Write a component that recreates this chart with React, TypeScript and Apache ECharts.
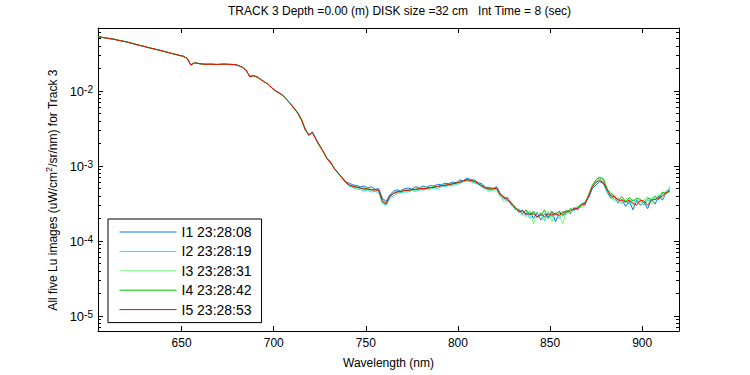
import React, { useEffect, useRef } from 'react';
import * as echarts from 'echarts';

// Wavelength grid: 605 nm, step 2 nm (156 samples)
const WL_START = 605;
const WL_STEP = 2;
// Values below are in units of 1e-4 uW/cm^2/sr/nm
const UNIT = 1e-4;

const I1 = [
  530, 519, 507, 500, 493, 477, 469, 459, 445, 433, 420, 406, 397, 386, 372, 365, 355, 344, 335, 326,
  314, 307, 297, 291, 270, 224, 239, 232, 229, 228, 227, 228, 225, 227, 229, 226, 227, 224, 219, 206,
  188, 157, 161, 153, 143, 131, 124, 109, 101, 93, 88, 76, 69, 58, 52, 41, 32, 25.5, 28.5, 22.8,
  18.8, 15.2, 12.7, 11.2, 9.1, 8.1, 7.1, 6.2,
  5.9, 5.6, 5.5, 5.3, 5.4, 5.1, 5.3, 4.9, 5.0, 3.7, 3.4, 4.1, 4.6, 4.8, 4.7, 5.0, 5.1, 4.9, 5.3, 5.1,
  5.4, 5.2, 5.5, 5.4, 5.7, 5.6, 5.9, 5.8, 6.1, 6.0, 6.5, 6.4, 6.9, 6.6, 6.5, 6.0, 5.8, 5.2, 5.2, 5.0, 5.3,
  4.3, 3.7, 3.8, 3.0, 2.9, 2.4, 2.6, 2.2, 2.5, 2.0, 2.4, 1.9, 2.3, 2.1, 2.5, 1.8, 2.4, 2.2, 2.6, 2.3,
  2.8, 2.6, 3.1, 3.3,
  3.8, 5.0, 5.6, 6.2, 5.8, 4.5, 3.7, 3.9, 3.2, 3.6, 2.9, 3.4, 2.6, 3.5, 3.0, 3.3, 2.7, 3.6, 3.1, 4.0,
  3.5, 4.4, 5.0,
];
const I2 = [
  527, 517, 509, 498, 490, 479, 467, 456, 447, 431, 418, 408, 395, 384, 375, 363, 353, 346, 333, 324,
  316, 305, 299, 289, 273, 221, 237, 234, 228, 226, 229, 226, 227, 226, 227, 228, 225, 226, 217, 208,
  191, 154, 159, 155, 141, 133, 122, 111, 99, 95, 86, 78, 67, 60, 50, 43, 30, 26.5, 27.5, 22.2,
  18.2, 15.6, 12.3, 10.8, 9.3, 7.9, 6.9, 6.0,
  5.4, 5.2, 4.9, 4.9, 4.6, 4.8, 4.5, 4.6, 4.4, 3.2, 3.0, 3.7, 4.0, 4.3, 4.4, 4.5, 4.5, 4.7, 4.6, 4.8,
  4.8, 4.9, 4.9, 5.1, 5.0, 5.3, 5.3, 5.5, 5.4, 5.7, 5.8, 6.2, 6.3, 6.2, 5.9, 5.7, 5.2, 4.9, 4.6, 4.8, 4.8,
  3.9, 3.6, 3.4, 3.2, 2.6, 2.7, 2.2, 2.5, 2.0, 2.4, 2.0, 2.3, 1.85, 2.4, 2.1, 2.3, 2.0, 2.5, 2.3, 2.7,
  2.5, 2.9, 2.8, 3.0,
  4.1, 5.2, 6.0, 6.8, 5.9, 4.4, 4.2, 3.5, 3.7, 3.2, 3.5, 3.1, 3.6, 3.2, 3.4, 3.0, 3.5, 3.3, 3.8, 3.5,
  4.3, 4.2, 5.3,
];
const I3 = [
  529, 518, 508, 500, 491, 478, 469, 457, 446, 432, 420, 407, 396, 385, 374, 364, 354, 345, 334, 325,
  315, 306, 298, 290, 272, 222, 238, 233, 229, 227, 228, 227, 226, 228, 228, 227, 226, 225, 218, 207,
  190, 155, 160, 154, 142, 132, 123, 110, 100, 94, 87, 77, 68, 59, 51, 42, 31, 26, 28, 22.5,
  18.5, 15.4, 12.5, 11.0, 9.2, 8.0, 7.0, 6.1,
  5.7, 5.3, 5.1, 5.2, 4.9, 5.0, 4.7, 4.9, 4.6, 3.4, 3.3, 3.9, 4.4, 4.4, 4.7, 4.6, 4.9, 4.7, 5.0, 4.9,
  5.1, 5.0, 5.2, 5.2, 5.4, 5.4, 5.6, 5.6, 5.8, 5.8, 6.2, 6.3, 6.5, 6.5, 6.1, 5.9, 5.3, 5.0, 4.8, 4.7, 5.0,
  4.0, 3.3, 3.7, 3.0, 2.9, 2.5, 2.3, 2.1, 2.5, 1.7, 2.3, 2.4, 2.0, 2.5, 1.8, 2.4, 2.2, 1.7, 2.6, 2.4,
  2.7, 2.9, 2.8, 3.2,
  4.2, 5.6, 6.4, 7.3, 6.3, 5.0, 3.9, 3.4, 3.8, 3.1, 3.7, 3.6, 3.0, 3.8, 3.2, 3.6, 3.9, 3.1, 3.5, 4.2,
  3.7, 4.8, 4.4,
];
const I4 = [
  528, 519, 508, 499, 492, 478, 468, 458, 446, 432, 419, 407, 397, 385, 374, 365, 354, 345, 335, 325,
  315, 306, 298, 290, 271, 223, 238, 233, 230, 227, 228, 227, 226, 227, 228, 227, 226, 225, 218, 207,
  189, 156, 160, 154, 142, 132, 123, 110, 100, 94, 87, 77, 68, 59, 51, 42, 31, 26, 28, 22.5,
  18.4, 15.4, 12.5, 11.0, 9.2, 8.0, 7.0, 6.1,
  5.5, 5.4, 5.3, 5.0, 5.1, 4.9, 4.9, 4.8, 4.8, 3.3, 3.1, 4.0, 4.3, 4.6, 4.5, 4.8, 4.7, 4.9, 4.8, 5.0,
  4.9, 5.1, 5.1, 5.3, 5.3, 5.5, 5.5, 5.7, 5.7, 6.0, 6.0, 6.4, 6.5, 6.4, 6.3, 5.8, 5.5, 5.1, 5.0, 5.0, 5.1,
  4.2, 3.9, 3.5, 3.3, 2.7, 2.6, 2.3, 2.6, 2.2, 2.5, 2.1, 2.2, 2.6, 2.0, 2.4, 2.3, 2.5, 2.2, 2.4, 2.7,
  2.6, 2.8, 3.1, 3.2,
  4.1, 5.5, 6.6, 7.0, 6.7, 4.9, 4.3, 4.0, 3.5, 3.9, 3.3, 3.8, 3.4, 3.7, 3.6, 3.2, 3.7, 3.6, 4.0, 3.6,
  4.5, 4.3, 4.6,
];
const I5 = [
  528, 518, 508, 499, 491, 478, 468, 457, 446, 432, 419, 407, 396, 385, 374, 364, 354, 345, 334, 325,
  315, 306, 298, 290, 272, 222, 238, 233, 229, 227, 228, 227, 226, 227, 228, 227, 226, 225, 218, 207,
  190, 155, 160, 154, 142, 132, 123, 110, 100, 94, 87, 77, 68, 59, 51, 42, 31, 26, 28, 22.5,
  18.5, 15.4, 12.5, 11.0, 9.2, 8.0, 7.0, 6.1,
  5.6, 5.3, 5.2, 5.1, 4.9, 4.95, 4.8, 4.8, 4.7, 3.5, 3.15, 3.9, 4.3, 4.5, 4.6, 4.7, 4.75, 4.85, 4.9, 4.95,
  5.0, 5.05, 5.15, 5.2, 5.35, 5.45, 5.55, 5.6, 5.8, 5.9, 6.1, 6.3, 6.6, 6.4, 6.2, 5.85, 5.4, 5.1, 4.9, 4.95, 5.05,
  4.1, 3.8, 3.6, 3.1, 2.8, 2.5, 2.5, 2.3, 2.3, 2.3, 2.1, 2.3, 2.1, 2.3, 2.2, 2.3, 2.2, 2.4, 2.5, 2.5,
  2.7, 2.7, 3.0, 3.1,
  4.0, 5.3, 6.1, 6.4, 6.0, 4.8, 4.0, 3.9, 3.5, 3.5, 3.3, 3.5, 3.2, 3.0, 3.5, 3.4, 3.0, 3.5, 3.6, 3.7,
  4.0, 4.4, 4.7,
];

const SERIES_DATA = [I1, I2, I3, I4, I5];
const SERIES_NAMES = ['I1 23:28:08', 'I2 23:28:19', 'I3 23:28:31', 'I4 23:28:42', 'I5 23:28:53'];
const COLORS = ['#0a78e6', '#14e6f0', '#78f878', '#00c000', '#ff0000'];

const X_MIN = 604.6;
const X_MAX = 920;
const X_TICKS = [650, 700, 750, 800, 850, 900];

// y axis in log10 units
const Y_MIN = -5.2;
const Y_MAX = -1.16;
const Y_DECADES = [-5, -4, -3, -2];
const MINOR_EXPONENTS = [-6, -5, -4, -3, -2];
const MINOR_MANTISSAS = [2, 3, 4, 5, 6, 7, 8, 9];

const TITLE = 'TRACK 3 Depth =0.00 (m) DISK size =32 cm   Int Time = 8 (sec)';
const FONT = '"Liberation Sans", Arial, Helvetica, sans-serif';

export default function App() {
  const ref = useRef<HTMLDivElement>(null);
  useEffect(() => {
    if (!ref.current) return;
    const chart = echarts.init(ref.current, undefined, { renderer: 'svg' });

    const minorTicks: number[] = [];
    MINOR_EXPONENTS.forEach((e) =>
      MINOR_MANTISSAS.forEach((m) => {
        const v = Math.log10(m) + e;
        if (v > Y_MIN && v < Y_MAX) minorTicks.push(v);
      })
    );

    const axisLine = { show: true, lineStyle: { color: '#000', width: 1 } };
    const tickStyle = { color: '#000', width: 1 };

    const yBase = {
      type: 'value' as const,
      min: Y_MIN,
      max: Y_MAX,
      splitLine: { show: false },
    };

    const option: any = {
      animation: false,
      backgroundColor: '#fff',
      title: {
        text: TITLE,
        left: 228,
        top: 5,
        padding: 0,
        textStyle: { fontSize: 12, fontWeight: 'normal', color: '#000', fontFamily: FONT },
      },
      grid: { left: 98, right: 71, top: 28, bottom: 44, containLabel: false },
      legend: {
        orient: 'vertical',
        left: 108,
        top: 219,
        data: SERIES_NAMES,
        itemWidth: 57,
        itemHeight: 13,
        itemGap: 5.4,
        itemStyle: { opacity: 0, borderWidth: 0 },
        lineStyle: { width: 1 },
        padding: [6, 10, 6, 11],
        borderColor: '#000',
        borderWidth: 1,
        borderRadius: 0,
        backgroundColor: '#fff',
        selectedMode: false,
        textStyle: { fontSize: 14, lineHeight: 14, color: '#000', fontFamily: FONT },
      },
      xAxis: [
        {
          type: 'value',
          min: X_MIN,
          max: X_MAX,
          position: 'bottom',
          axisLine,
          axisTick: { show: true, inside: true, length: 5, lineStyle: tickStyle, customValues: X_TICKS },
          axisLabel: { show: true, customValues: X_TICKS, color: '#000', fontSize: 12, fontFamily: FONT, margin: 6 },
          splitLine: { show: false },
          name: 'Wavelength (nm)',
          nameLocation: 'middle',
          nameGap: 26,
          nameTextStyle: { fontSize: 12, color: '#000', fontFamily: FONT },
        },
        {
          type: 'value',
          min: X_MIN,
          max: X_MAX,
          position: 'top',
          axisLine,
          axisTick: { show: true, inside: true, length: 5, lineStyle: tickStyle, customValues: X_TICKS },
          axisLabel: { show: false },
          splitLine: { show: false },
        },
      ],
      yAxis: [
        {
          ...yBase,
          position: 'left',
          axisLine,
          axisTick: { show: true, inside: true, length: 5, lineStyle: tickStyle, customValues: Y_DECADES },
          axisLabel: {
            show: true,
            customValues: Y_DECADES,
            margin: 5,
            formatter: (v: number) => `{b|10}{s|${Math.round(v)}}`,
            rich: {
              b: { fontSize: 13, lineHeight: 14, padding: [11, 0, 11, 0], color: '#000', fontFamily: FONT },
              s: { fontSize: 10, lineHeight: 12, verticalAlign: 'top', color: '#000', fontFamily: FONT },
            },
          },
        },
        {
          ...yBase,
          position: 'left',
          axisLine: { show: false },
          axisTick: { show: true, inside: true, length: 3, lineStyle: tickStyle, customValues: minorTicks },
          axisLabel: { show: false },
        },
        {
          ...yBase,
          position: 'right',
          axisLine,
          axisTick: { show: true, inside: true, length: 5, lineStyle: tickStyle, customValues: Y_DECADES },
          axisLabel: { show: false },
        },
        {
          ...yBase,
          position: 'right',
          axisLine: { show: false },
          axisTick: { show: true, inside: true, length: 3, lineStyle: tickStyle, customValues: minorTicks },
          axisLabel: { show: false },
        },
      ],
      graphic: [
        {
          type: 'text',
          x: 51,
          y: 190,
          rotation: Math.PI / 2,
          style: {
            text: '{n|All five Lu images (uW/cm}{sup|2}{n|/sr/nm) for Track 3}',
            rich: {
              n: { fontSize: 12, lineHeight: 14, padding: [3, 0, 0, 0], fill: '#000', fontFamily: FONT },
              sup: { fontSize: 9, lineHeight: 10, verticalAlign: 'top', fill: '#000', fontFamily: FONT },
            },
            align: 'center',
            verticalAlign: 'middle',
          },
        },
      ],
      series: SERIES_DATA.map((arr, k) => ({
        name: SERIES_NAMES[k],
        type: 'line',
        xAxisIndex: 0,
        yAxisIndex: 0,
        symbol: 'none',
        showSymbol: false,
        clip: true,
        color: COLORS[k],
        lineStyle: { width: 1, color: COLORS[k] },
        itemStyle: { color: COLORS[k] },
        data: arr.map((v, i) => [WL_START + i * WL_STEP, Math.log10(v * UNIT)]),
      })),
    };

    chart.setOption(option);
    return () => chart.dispose();
  }, []);

  return (
    <div
      ref={ref}
      style={{ position: 'fixed', left: 0, top: 0, width: 750, height: 375, background: '#fff' }}
    />
  );
}
